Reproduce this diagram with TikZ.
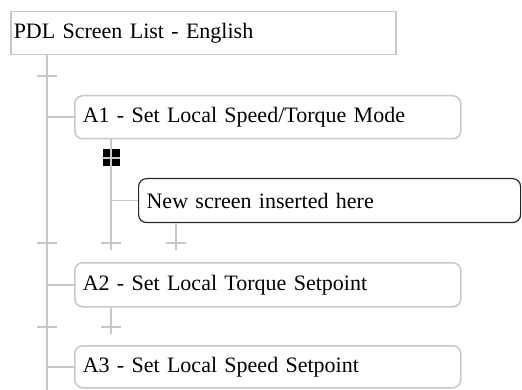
\documentclass[tikz,border=0pt]{standalone}
\usepackage{fontspec}
\setmainfont{Liberation Serif}
\usetikzlibrary{positioning}
\definecolor{lgray}{RGB}{200,200,200}
\definecolor{dgray}{RGB}{40,40,40}

\begin{document}
\begin{tikzpicture}[x=1pt,y=-1pt,
  screen/.style={draw=lgray, line width=1.5pt, rounded corners=8pt, anchor=north west,
    minimum height=43pt, inner xsep=8pt, text width=370pt, align=left,
    font=\fontsize{22}{26}\selectfont},
  tree/.style={draw=lgray, line width=1.5pt}]%
  \def\tx{47}% main trunk
  \def\sx{111}% sub trunk
  \def\tl{10}% half tick
  \useasboundingbox (0,0) rectangle (522,390);

  %screen list:
  \node[screen, rounded corners=0pt, inner xsep=3pt, text width=379pt] (root) at (10,11) {PDL Screen List - English};
  \node[screen] (a1) at (74,95) {A1 - Set Local Speed/Torque Mode};
  \node[screen, draw=dgray, line width=1.2pt, text width=366pt, minimum height=44pt] (new) at (138,178) {New screen inserted here};
  \node[screen, minimum height=44pt] (a2) at (74,262) {A2 - Set Local Torque Setpoint};
  \node[screen, minimum height=42pt] (a3) at (74,345) {A3 - Set Local Speed Setpoint};

  %marker
  \node[fill=black, minimum size=17pt, inner sep=0pt] (mark) at (\sx,158) {};

  %trunks
  \coordinate (trunkend) at (\tx,390);
  \coordinate (subend) at (\sx,250);
  \coordinate (newend) at (176,250);
  \coordinate (a2end) at (\sx,334);
  \draw[tree] (root.south -| trunkend) -- (trunkend);
  \draw[tree] (a1.south -| subend) -- (subend);
  \draw[tree] (new.south -| newend) -- (newend);
  \draw[tree] (a2.south -| a2end) -- (a2end);
  \draw[tree] (mark.west) -- (mark.east);

  %branches
  \foreach \n in {a1,a2,a3}{
    \draw[tree] (\n.west) -- (\n.west -| trunkend);
  }
  \draw[tree] (new.west) -- (new.west -| subend);

  %ticks
  \foreach \x/\y in {\tx/76, \tx/243, \sx/243, 176/243, \tx/327, \sx/327}{
    \draw[tree] (\x-\tl,\y) -- (\x+\tl,\y);
  }
\end{tikzpicture}
\end{document}
